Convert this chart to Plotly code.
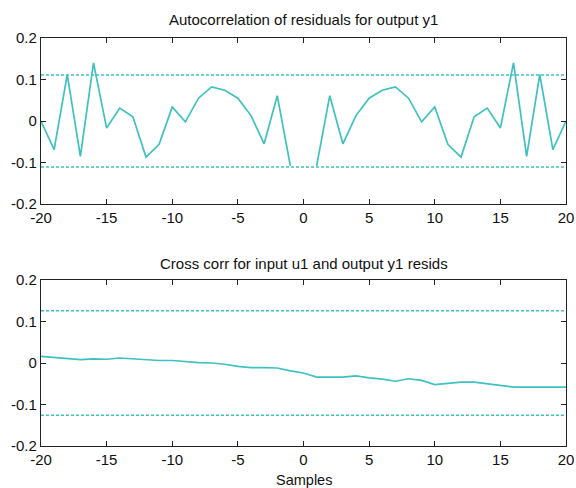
import plotly.graph_objects as go
from plotly.subplots import make_subplots

# Lags shown on both panels
lags = list(range(-20, 21))

# Autocorrelation of residuals (lag 0 omitted: it equals 1 and is off scale)
acf_right = [None, -0.108, 0.061, -0.055, 0.013, 0.055, 0.074, 0.082, 0.055,
             -0.002, 0.034, -0.056, -0.087, 0.010, 0.031, -0.017, 0.140,
             -0.085, 0.112, -0.069, 0.0]
acf_left = acf_right[:0:-1]
acf = acf_left + acf_right

# Cross correlation between input u1 and output residuals
ccf = [0.016, 0.013, 0.010, 0.008, 0.010, 0.009, 0.012, 0.010, 0.009, 0.006,
       0.006, 0.003, 0.001, 0.0, -0.003, -0.008, -0.011, -0.011, -0.012,
       -0.019, -0.024, -0.034, -0.034, -0.034, -0.031, -0.036, -0.039,
       -0.044, -0.038, -0.042, -0.052, -0.049, -0.046, -0.046, -0.050,
       -0.054, -0.058, -0.058, -0.058, -0.058, -0.058]

# Confidence bounds
acf_conf = 0.111
ccf_conf = 0.126

titles = ["Autocorrelation of residuals for output y1",
          "Cross corr for input u1 and output y1 resids"]
xticks = [-20, -15, -10, -5, 0, 5, 10, 15, 20]
xtick_text = ["-20", "-15", "-10", "-5", "0", "5", "10", "15", "20"]
yticks = [-0.2, -0.1, 0, 0.1, 0.2]
ytick_text = ["-0.2", "-0.1", "0", "0.1", "0.2"]

color = "#3fc1c1"
font = "Liberation Sans, Arial, sans-serif"
W, H = 576, 488
M_L, M_R, M_T, M_B = 41, 10, 38, 42

fig = make_subplots(rows=2, cols=1)

for row, series, conf in [(1, acf, acf_conf), (2, ccf, ccf_conf)]:
    fig.add_trace(go.Scatter(x=lags, y=series, mode="lines",
                             line=dict(color=color, width=1.7),
                             connectgaps=False, showlegend=False),
                  row=row, col=1)
    for level in (conf, -conf):
        fig.add_trace(go.Scatter(x=[lags[0], lags[-1]], y=[level, level],
                                 mode="lines",
                                 line=dict(color=color, width=1.5,
                                           dash="3px,2px"),
                                 showlegend=False),
                      row=row, col=1)

axis_style = dict(showline=True, linecolor="#222", linewidth=1.3,
                  mirror="ticks", ticks="inside", ticklen=5,
                  tickcolor="#222", tickwidth=1.3, showgrid=False,
                  zeroline=False, automargin=False,
                  tickfont=dict(family=font, size=15, color="#111"))

fig.update_xaxes(range=[-20, 20], tickvals=xticks, ticktext=xtick_text,
                 **axis_style)
fig.update_yaxes(range=[-0.2, 0.2], tickvals=yticks, ticktext=ytick_text,
                 **axis_style)

plot_h = H - M_T - M_B
top_lo = 1 - (204 - M_T) / plot_h
bot_hi = 1 - (280 - M_T) / plot_h

fig.update_layout(
    width=W, height=H,
    margin=dict(l=M_L, r=M_R, t=M_T, b=M_B),
    paper_bgcolor="white", plot_bgcolor="white",
    yaxis=dict(domain=[top_lo, 1.0]),
    yaxis2=dict(domain=[0.0, bot_hi]),
    font=dict(family=font, color="#111"),
)


def paper_y(px_from_top):
    return 1 - (px_from_top - M_T) / plot_h


# Panel titles and axis label
for text, ypx, size in [(titles[0], 20, 15), (titles[1], 263, 15),
                        ("Samples", 480, 14.5)]:
    fig.add_annotation(text=text, x=0.5, xref="paper", y=paper_y(ypx),
                       yref="paper", yanchor="middle", showarrow=False,
                       font=dict(size=size, family=font, color="#111"))

fig.write_html("out.html")
